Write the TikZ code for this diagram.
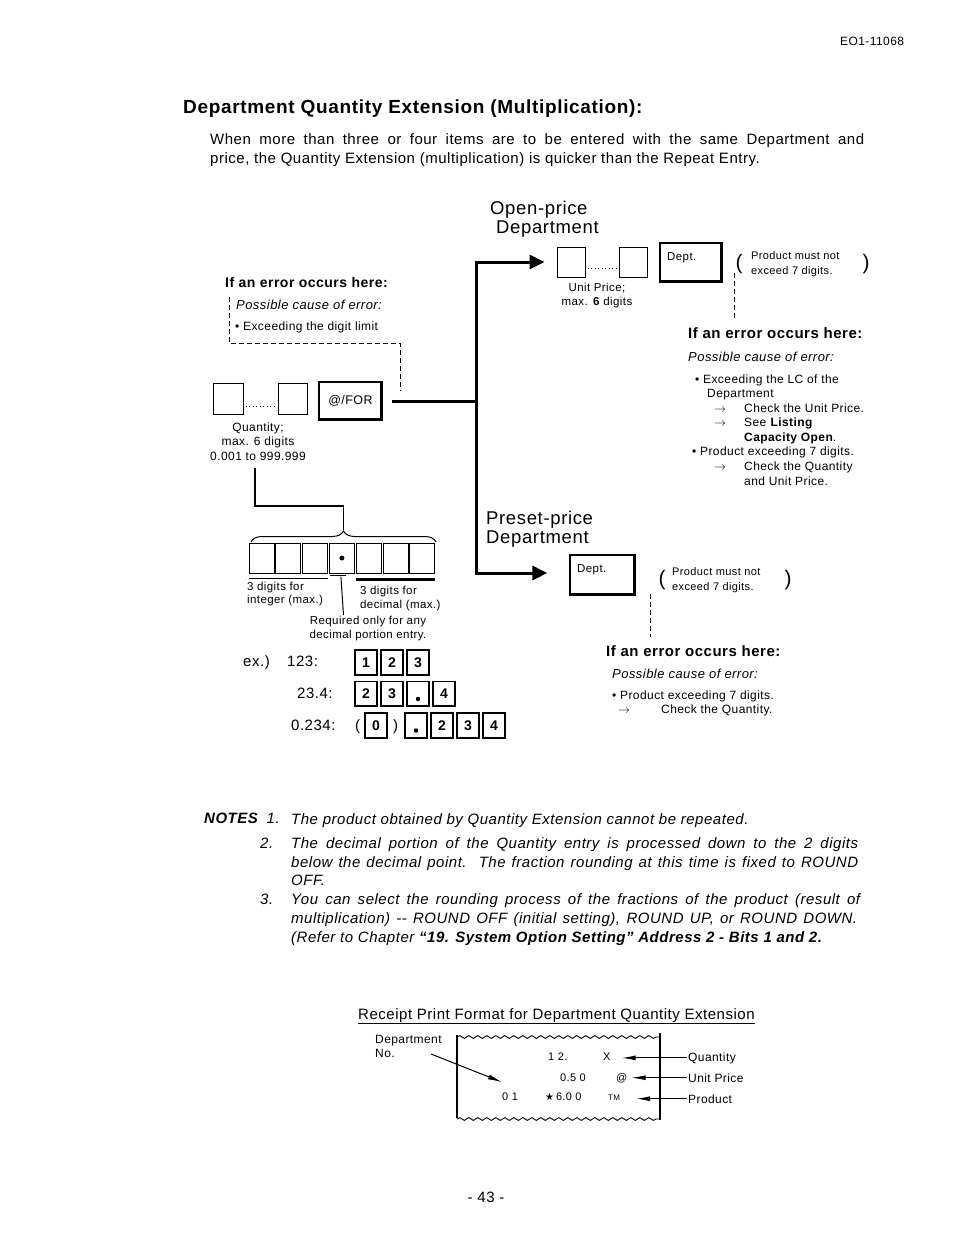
\documentclass[tikz,border=0pt]{standalone}
\usepackage{fontspec}
\setmainfont{Liberation Sans}[LetterSpace=3.5]
\newfontfamily\dejavu{DejaVu Sans}
\newfontfamily\plainsans{Liberation Sans}
\usetikzlibrary{arrows.meta,decorations.pathreplacing,decorations.pathmorphing,calc}
\newcommand\fz[1]{\fontsize{#1}{#1}\selectfont}
\newcommand\kshadow[1]{\draw[line width=2.6pt] ($(#1.north east)+(-1.3,1)$) -- ($(#1.south east)+(-1.3,-1.3)$) -- ($(#1.south west)+(1,-1.3)$);}
\tikzset{
 txt/.style={inner sep=0pt, anchor=base west},
 ctxt/.style={inner sep=0pt, anchor=base},
 sbox/.style={draw, line width=1pt, inner sep=0pt},
 thickln/.style={line width=3pt, line cap=rect},
 arr/.style={line width=3pt, line cap=rect, -{Triangle[length=15pt,width=14pt]}},
 dashln/.style={line width=1pt, dash pattern=on 5pt off 3pt},
 dotln/.style={line width=1pt, dash pattern=on 1pt off 2.5pt},
 ekey/.style={draw, line width=1.2pt, inner sep=0pt, minimum width=22pt, minimum height=25pt, font=\fz{14}\bfseries},
 rarr/.style={line width=1pt, -{Latex[length=14pt,width=5pt]}},
 small/.style={font=\fz{12}},
 pmtxt/.style={inner sep=0pt, anchor=north west, align=left, font=\fontsize{11}{15.5}\selectfont},
 ital/.style={font=\fz{13}\itshape},
 paren/.style={inner sep=0pt, font=\plainsans\fz{21}},
}
\begin{document}
\begin{tikzpicture}[x=1pt,y=-1pt]
\path[use as bounding box, fill=white] (0,0) rectangle (954,1239);

% header and intro
\node[txt, font=\fz{12}] (hdr) at (840,46) {EO1-11068};
\node[txt, font=\fz{19}\bfseries] (title) at (183,113) {Department Quantity Extension (Multiplication):};
\node[txt, font=\fz{15}] (p1) at (210,144) {\makebox[654pt][s]{When more than three or four items are to be entered with the same Department and}};
\node[txt, font=\fz{15}] (p2) at (210,163) {price, the Quantity Extension (multiplication) is quicker than the Repeat Entry.};

% open-price department
\node[txt, font=\fz{18.5}] (op1) at (490,214) {Open-price};
\node[txt, font=\fz{18.5}] (op2) at (496,233) {Department};
\node[sbox, minimum width=28pt, minimum height=30pt] (u1) at (571,262) {};
\node[sbox, minimum width=28pt, minimum height=30pt] (u2) at (633,262) {};
\draw[dotln] ($(u1.east)+(2,6)$) -- ($(u2.west)+(-2,6)$);
\node[ctxt, font=\fz{11.5}] (ul1) at (597,291) {Unit Price;};
\node[ctxt, font=\fz{11.5}] (ul2) at (597,305) {max. \textbf{6} digits};
\node[sbox, line width=1.2pt, minimum width=62pt, minimum height=39pt] (dk1) at (691,262.5) {};
\kshadow{dk1}
\node[txt, font=\fz{11.5}] (dk1t) at (667,260) {Dept.};
\node[paren] (lp1) at (739,264) {(};
\node[pmtxt] (pm1) at (751,251) {Product must not\\exceed 7 digits.};
\node[paren] (rp1) at (866,264) {)};
\coordinate (e1a) at (734,273);
\coordinate (e1b) at (734,318);
\draw[dashln] (e1a) -- (e1b);
\node[txt, font=\fz{15}\bfseries] (er1) at (688,338) {If an error occurs here:};
\node[txt, ital] (pc1) at (688,361) {Possible cause of error:};
\node[txt, small] (r1) at (695,383) {\textbullet\ Exceeding the LC of the};
\node[txt, small] (r2) at (707,397) {Department};
\node[txt, small] (r3a) at (714,412) {$\rightarrow$};
\node[txt, small] (r3) at (744,412) {Check the Unit Price.};
\node[txt, small] (r4a) at (714,426) {$\rightarrow$};
\node[txt, small] (r4) at (744,426) {See \textbf{Listing}};
\node[txt, small] (r5) at (744,441) {\textbf{Capacity Open}.};
\node[txt, small] (r6) at (692,455) {\textbullet\ Product exceeding 7 digits.};
\node[txt, small] (r7a) at (714,470) {$\rightarrow$};
\node[txt, small] (r7) at (744,470) {Check the Quantity};
\node[txt, small] (r8) at (744,485) {and Unit Price.};

% left error block and quantity keys
\node[txt, font=\fz{14}\bfseries] (er0) at (225,287) {If an error occurs here:};
\node[txt, ital] (pc0) at (236,309) {Possible cause of error:};
\node[txt, small] (l1) at (235,330) {\textbullet\ Exceeding the digit limit};
\coordinate (d0a) at (229,297);
\coordinate (d0b) at (400,391);
\draw[dashln] (d0a) -- (229,343) -- (400,343) -- (d0b);
\node[sbox, minimum width=30pt, minimum height=31pt] (q1) at (228,398.5) {};
\node[sbox, minimum width=29pt, minimum height=31pt] (q2) at (292.5,398.5) {};
\draw[dotln] ($(q1.east)+(2,8)$) -- ($(q2.west)+(-2,8)$);
\node[sbox, line width=1.2pt, minimum width=63pt, minimum height=38pt, font=\fz{12.5}] (fk) at (350.5,401) {@/FOR};
\kshadow{fk}
\node[ctxt, font=\fz{12}] (ql1) at (258,431) {Quantity;};
\node[ctxt, font=\fz{12}] (ql2) at (258,445) {max. 6 digits};
\node[ctxt, font=\fz{12}] (ql3) at (258,460) {0.001 to 999.999};

% main connector
\coordinate (jt) at (476,262);
\coordinate (jm) at (476,401);
\coordinate (jb) at (476,573);
\node[sbox, line width=1.2pt, minimum width=65pt, minimum height=40pt] (dk2) at (602.5,575) {};
\draw[arr, shorten >=12pt] (jb) -- (jt) -- (u1.west |- jt);
\draw[arr, shorten >=22pt] (jb) -- (dk2.west |- jb);
\draw[thickln] ([xshift=11pt]fk.east) -- (jm);

% preset-price department
\node[txt, font=\fz{18.5}] (pp1) at (486,524) {Preset-price};
\node[txt, font=\fz{18.5}] (pp2) at (486,543) {Department};
\kshadow{dk2}
\node[txt, font=\fz{11.5}] (dk2t) at (577,572) {Dept.};
\node[paren] (lp2) at (662,580) {(};
\node[pmtxt] (pm3) at (672,567) {Product must not\\exceed 7 digits.};
\node[paren] (rp2) at (788,580) {)};
\coordinate (e2a) at (650,594);
\coordinate (e2b) at (650,637);
\draw[dashln] (e2a) -- (e2b);
\node[txt, font=\fz{15}\bfseries] (er2) at (606,656) {If an error occurs here:};
\node[txt, ital] (pc2) at (612,678) {Possible cause of error:};
\node[txt, small] (s1) at (612,699) {\textbullet\ Product exceeding 7 digits.};
\node[txt, small] (s2a) at (618,713) {$\rightarrow$};
\node[txt, small] (s2) at (661,713) {Check the Quantity.};

% quantity digit layout
\coordinate (qc) at (255,468);
\coordinate (bt) at (343.5,530);
\draw[line width=1.6pt] (qc) -- (255,506) -- (343.5,506) -- (bt);
\draw[line width=1pt, decorate, decoration={brace, amplitude=11pt}] (251,542) -- (436,542);
\foreach \i in {0,...,6} \node[sbox, minimum width=25pt, minimum height=30pt] (b\i) at (261.5+\i*26.8,558) {};
\fill (b3) circle (2.5pt);
\draw[line width=1.8pt] ($(b0.south west)+(0,5)$) -- ($(b2.south east)+(0,5)$);
\draw[line width=2.2pt] ($(b4.south west)+(0,6)$) -- ($(b6.south east)+(0,6)$);
\draw[line width=0.8pt] ($(b3.south west)+(1,2)$) -- ($(b3.south east)+(-9,2)$);
\coordinate (rq) at (343.5,615);
\draw[line width=1pt] ($(b3.south)+(-1,3)$) -- (rq);
\node[txt, font=\fz{11.5}] (i1) at (247,590) {3 digits for};
\node[txt, font=\fz{11.5}] (i2) at (247,603) {integer (max.)};
\node[txt, font=\fz{11.5}] (d1) at (360,594) {3 digits for};
\node[txt, font=\fz{11.5}] (d2) at (360,608) {decimal (max.)};
\node[ctxt, font=\fz{11.5}] (rq1) at (368,624) {Required only for any};
\node[ctxt, font=\fz{11.5}] (rq2) at (368,638) {decimal portion entry.};

% examples
\node[txt, font=\fz{15}] (ex) at (243,666) {ex.)};
\node[txt, font=\fz{15}] (ex1) at (287,666) {123:};
\node[ekey] (k11) at (366,662.5) {1};
\node[ekey] (k12) at (392,662.5) {2};
\node[ekey] (k13) at (418,662.5) {3};
\node[txt, font=\fz{15}] (ex2) at (297,698) {23.4:};
\node[ekey] (k21) at (366,694) {2};
\node[ekey] (k22) at (392,694) {3};
\node[ekey] (k23) at (418,694) {};
\node[ekey] (k24) at (444,694) {4};
\node[txt, font=\fz{15}] (ex3) at (291,730) {0.234:};
\node[txt, font=\fz{15}] (pa) at (355,730) {(};
\node[ekey] (k31) at (376,725.5) {0};
\node[txt, font=\fz{15}] (pb) at (393,730) {)};
\node[ekey] (k32) at (416,725.5) {};
\node[ekey] (k33) at (442,725.5) {2};
\node[ekey] (k34) at (468,725.5) {3};
\node[ekey] (k35) at (494,725.5) {4};
\fill ($(k23.center)+(0,5)$) circle (2.2pt);
\fill ($(k32.center)+(0,5)$) circle (2.2pt);
\foreach \k in {k11,k12,k13,k21,k22,k23,k24,k31,k32,k33,k34,k35} {\draw[line width=1.8pt] ($(\k.north east)+(-0.9,0.5)$) -- ($(\k.south east)+(-0.9,-0.9)$) -- ($(\k.south west)+(0.5,-0.9)$);}

% notes
\node[txt, font=\fz{15}\itshape] (n0) at (204,823) {\textbf{NOTES}\hspace{4pt} 1.};
\node[txt, font=\fz{15}\itshape] (n1) at (291,824) {The product obtained by Quantity Extension cannot be repeated.};
\node[txt, font=\fz{15}\itshape] (n2n) at (260,848) {2.};
\node[txt, font=\fz{15}\itshape] (n2a) at (291,848) {\makebox[567pt][s]{The decimal portion of the Quantity entry is processed down to the 2 digits}};
\node[txt, font=\fz{15}\itshape] (n2b) at (291,867) {\makebox[567pt][s]{below the decimal point.\ \ The fraction rounding at this time is fixed to ROUND}};
\node[txt, font=\fz{15}\itshape] (n2c) at (291,885) {OFF.};
\node[txt, font=\fz{15}\itshape] (n3n) at (260,904) {3.};
\node[txt, font=\fz{15}\itshape] (n3a) at (291,904) {\makebox[569pt][s]{You can select the rounding process of the fractions of the product (result of}};
\node[txt, font=\fz{15}\itshape] (n3b) at (291,923) {\makebox[566pt][s]{multiplication) -{}- ROUND OFF (initial setting), ROUND UP, or ROUND DOWN.}};
\node[txt, font=\fz{15}\itshape] (n3c) at (291,942) {(Refer to Chapter \textbf{“19. System Option Setting” Address 2 - Bits 1 and 2.}};

% receipt
\node[txt, font=\fz{15}] (rt) at (358,1019) {\underline{Receipt Print Format for Department Quantity Extension}};
\draw[line width=1.2pt] (457,1035) -- (457,1118);
\draw[line width=1.2pt] (660,1033) -- (660,1120);
\draw[line width=0.9pt, decorate, decoration={snake, segment length=9pt, amplitude=1.4pt}] (457,1037) -- (660,1037);
\draw[line width=0.9pt, decorate, decoration={snake, segment length=9pt, amplitude=1.4pt}] (457,1119) -- (660,1119);
\node[txt, font=\fz{12}] (dn1) at (375,1043) {Department};
\node[txt, font=\fz{12}] (dn2) at (375,1057) {No.};
\node[txt, font=\fz{11}] (rc1) at (548,1060) {1 2.};
\node[txt, font=\fz{11}] (rcx) at (603,1060) {X};
\node[txt, font=\fz{11}] (rc2) at (560,1081) {0.5 0};
\node[txt, font=\fz{11}] (rca) at (616,1081) {@};
\node[txt, font=\fz{11}] (rc3) at (502,1100) {0 1};
\node[txt, font=\fz{11}] (rc4) at (545,1100) {{\dejavu\fz{10}★}\,6.0 0};
\node[txt, font=\fz{8}] (rct) at (608,1100) {TM};
\coordinate (da) at (431,1054);
\draw[rarr] (da) -- ($(rc3.north west)+(0,-10)$);
\node[txt, font=\fz{12}] (lq) at (688,1061) {Quantity};
\node[txt, font=\fz{12}] (lu) at (688,1082) {Unit Price};
\node[txt, font=\fz{12}] (lpd) at (688,1103) {Product};
\draw[rarr] ([xshift=-1pt]lq.west) -- ([xshift=11pt]rcx.east |- lq.west);
\draw[rarr] ([xshift=-1pt]lu.west) -- ([xshift=4pt]rca.east |- lu.west);
\draw[rarr] ([xshift=-1pt]lpd.west) -- ([xshift=16pt]rct.east |- lpd.west);

\node[ctxt, font=\fz{15}] (pg) at (486,1202) {- 43 -};
\end{tikzpicture}
\end{document}
